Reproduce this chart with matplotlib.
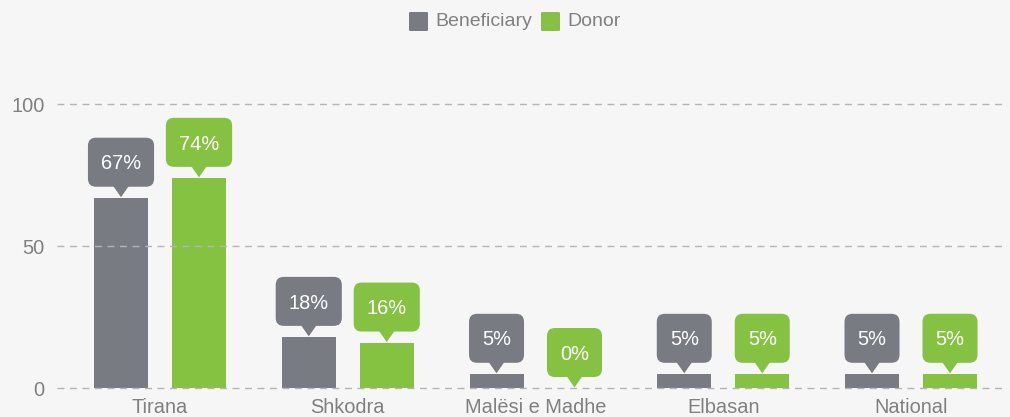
import numpy as np
import matplotlib
matplotlib.use("Agg")
from matplotlib import pyplot as plt
from matplotlib.patches import FancyBboxPatch, Polygon
from matplotlib.transforms import ScaledTranslation

plt.rcParams['font.family'] = ['Liberation Sans', 'DejaVu Sans']

# Data ==================================================================================
regions     = ["Tirana", "Shkodra", "Malësi e Madhe", "Elbasan", "National"]
beneficiary = [67, 18, 5, 5, 5]
donor       = [74, 16, 0, 5, 5]
yticks      = [0, 50, 100]

# Style
bg        = "#f5f6f5"
grey      = "#797b83"
green     = "#85c241"
txt_color = "#808080"
grid_col  = "#b4b4b4"

W, H = 1010, 417
fig = plt.figure(figsize=(W/100, H/100), dpi=100, facecolor=bg)
ax  = fig.add_axes([57/W, 29/H, 948/W, 284/H], facecolor=bg)

x     = np.arange(len(regions))
off   = 0.2077
width = 0.2876

ax.bar(x - off, beneficiary, width, color=grey, zorder=2)
ax.bar(x + off, donor,       width, color=green, zorder=2)

# dashed grid on top of bars
for t in yticks:
    ax.axhline(t, color=grid_col, lw=1, ls=(0, (5, 4)), zorder=3, clip_on=False)

ax.set_xlim(-0.5486, 4.5006)
ax.set_ylim(0, 100)
ax.set_xticks(x)
ax.set_xticklabels(regions)
ax.set_yticks(yticks)
ax.tick_params(length=0, labelsize=14.4, colors=txt_color)
ax.tick_params(axis='y', pad=9)
ax.tick_params(axis='x', pad=7)
for s in ax.spines.values():
    s.set_visible(False)

# Callouts ------------------------------------------------------------------------------
renderer = fig.canvas.get_renderer()
fs       = 14.4
box_bot  = 0.11   # inches above bar top
box_h    = 0.49
cap      = 0.716 * fs / 72   # cap height in inches

def callout(xc, v, color):
    # everything in inches relative to the top of the bar
    trans = fig.dpi_scale_trans + ScaledTranslation(xc, v, ax.transData)
    yc = box_bot + box_h / 2
    t = ax.text(0, yc - cap / 2, "%d%%" % v, transform=trans, ha='center', va='baseline',
                color='white', fontsize=fs, zorder=6, clip_on=False)
    w = t.get_window_extent(renderer).width / fig.dpi + 0.26
    box = FancyBboxPatch((-w / 2, box_bot), w, box_h,
                         boxstyle='round,pad=0,rounding_size=0.08',
                         fc=color, ec='none', transform=trans, clip_on=False, zorder=5)
    ax.add_patch(box)
    tri = Polygon([(-0.08, box_bot + 0.01), (0.08, box_bot + 0.01), (0, 0.005)], closed=True,
                  fc=color, ec='none', transform=trans, clip_on=False, zorder=5)
    ax.add_patch(tri)

for i in range(len(regions)):
    callout(x[i] - off, beneficiary[i], grey)
    callout(x[i] + off, donor[i], green)

# Legend --------------------------------------------------------------------------------
for (px, label, color) in [(409, "Beneficiary", grey), (541, "Donor", green)]:
    sq = FancyBboxPatch((px/W, (H-31)/H), 19/W, 19/H,
                        boxstyle='round,pad=0,rounding_size=0.002',
                        fc=color, ec='none', transform=fig.transFigure)
    fig.patches.append(sq)
    fig.text((px + 26)/W, (H-21)/H, label, ha='left', va='center',
             fontsize=14, color=txt_color)

fig.savefig("out.png", dpi=100, facecolor=bg)
